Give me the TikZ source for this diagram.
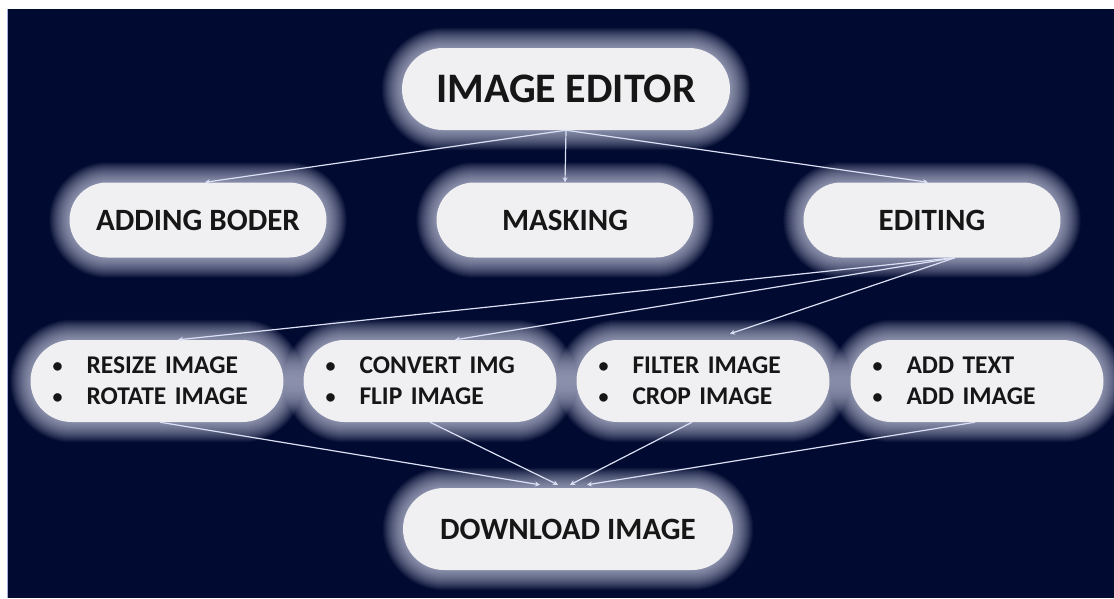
\documentclass[tikz,border=0pt]{standalone}
\usepackage{fontspec}
\setmainfont{Carlito}
\usetikzlibrary{arrows.meta,calc}
\definecolor{bgnavy}{RGB}{1,10,48}
\definecolor{boxfill}{RGB}{240,240,242}
\definecolor{linecol}{RGB}{220,224,245}
\definecolor{glowcol}{RGB}{215,218,240}
\definecolor{edgecol}{RGB}{170,175,225}
\definecolor{txtcol}{RGB}{22,22,22}
\pgfdeclarelayer{bglayer}
\pgfdeclarelayer{glowlayer}
\pgfsetlayers{bglayer,glowlayer,main}
\tikzset{
  pillbig/.style={fill=boxfill, rounded corners=41pt, minimum height=82pt, inner sep=0pt,
    text=txtcol, font=\fontsize{42}{48}\selectfont\bfseries},
  pillmid/.style={fill=boxfill, rounded corners=37.5pt, minimum height=75pt, minimum width=257pt, inner sep=0pt,
    text=txtcol, font=\fontsize{31}{37}\selectfont\bfseries},
  pilllist/.style={fill=boxfill, rounded corners=41pt, minimum height=82pt, inner xsep=22pt, inner ysep=0pt,
    text width=209pt, align=left, text=txtcol, font=\fontsize{25.5}{31}\selectfont\bfseries},
  conn/.style={draw=linecol, line width=1.2pt, -{Stealth[length=5pt,width=5pt]}},
  glowring/.style={draw=glowcol, opacity=0.05},
}
\newcommand{\bul}{\makebox[34pt][l]{\fontsize{20}{20}\selectfont\raisebox{1pt}{•}}}
\begin{document}
\begin{tikzpicture}[x=1pt,y=-1pt]
\useasboundingbox (0,0) rectangle (1114,598);
\begin{pgfonlayer}{bglayer}
  \fill[white] (0,0) rectangle (1114,598);
  \fill[bgnavy] (7,9) rectangle (1114,598);
  \draw[edgecol, line width=1.5pt] (7.5,9) -- (7.5,598);
\end{pgfonlayer}

\node[pillbig, minimum width=328pt] (ie) at (566,89) {IMAGE EDITOR};
\node[pillmid] (ab) at (198,220) {ADDING BODER};
\node[pillmid] (mk) at (565,220) {MASKING};
\node[pillmid] (ed) at (932,220) {EDITING};
\node[pilllist] (r1) at (157,381) {\bul RESIZE IMAGE\\\bul ROTATE IMAGE};
\node[pilllist] (r2) at (430,381) {\bul CONVERT IMG\\\bul FLIP IMAGE};
\node[pilllist] (r3) at (703,381) {\bul FILTER IMAGE\\\bul CROP IMAGE};
\node[pilllist] (r4) at (977,381) {\bul ADD TEXT\\\bul ADD IMAGE};
\node[pillbig, minimum width=330pt, font=\fontsize{31}{37}\selectfont\bfseries] (dl) at (568,529) {DOWNLOAD IMAGE};

\begin{pgfonlayer}{glowlayer}
  \foreach \n/\r in {ie/41,ab/37.5,mk/37.5,ed/37.5,r1/41,r2/41,r3/41,r4/41,dl/41} {
    \foreach \w in {2,4,...,40} {
      \draw[glowring, line width=\w pt, rounded corners=\r pt] (\n.south west) rectangle (\n.north east);
    }
  }
\end{pgfonlayer}

\draw[conn] (ie.south) -- ($(ab.north)+(7,0)$);
\draw[conn] (ie.south) -- (mk.north);
\draw[conn] (ie.south) -- ($(ed.north)+(-4,0)$);
\draw[conn] ($(ed.south)+(23,0)$) -- ($(r1.north)+(21,0)$);
\draw[conn] ($(ed.south)+(23,0)$) -- ($(r2.north)+(25,0)$);
\draw[conn] ($(ed.south)+(23,0)$) -- ($(r3.north)+(27,-6)$);
\draw[conn] ($(r1.south)+(3,0)$) -- ($(dl.north)+(-28,-3)$);
\draw[conn] (r2.south) -- ($(dl.north)+(-10,-3)$);
\draw[conn] ($(r3.south)+(-11,0)$) -- ($(dl.north)+(2,-3)$);
\draw[conn] ($(r4.south)+(-2,0)$) -- ($(dl.north)+(19,-3)$);
\end{tikzpicture}
\end{document}
